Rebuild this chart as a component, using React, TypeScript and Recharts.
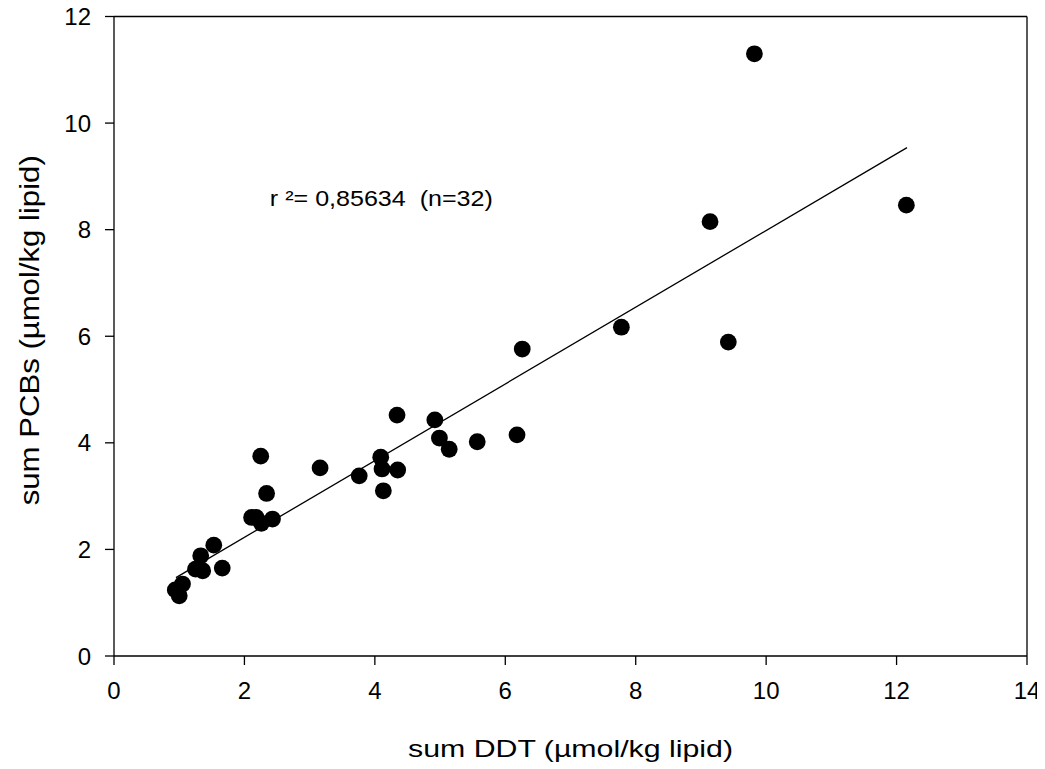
import React from "react";
import { ScatterChart, Scatter, XAxis, YAxis, ReferenceLine, ReferenceDot } from "recharts";

const sumDDT = [0.94, 1.05, 1.0, 1.25, 1.36, 1.33, 1.53, 1.66, 2.11, 2.18, 2.26, 2.43, 2.34, 2.25, 3.16, 3.76, 4.34, 4.09, 4.11, 4.35, 4.13, 4.92, 4.99, 5.14, 5.57, 6.18, 6.26, 7.78, 9.14, 9.42, 9.82, 12.15];
const sumPCB = [1.24, 1.35, 1.13, 1.63, 1.6, 1.88, 2.08, 1.65, 2.6, 2.6, 2.49, 2.57, 3.05, 3.75, 3.53, 3.38, 4.52, 3.73, 3.51, 3.49, 3.1, 4.43, 4.09, 3.88, 4.02, 4.15, 5.76, 6.17, 8.15, 5.89, 11.3, 8.46];
const fitX = [0.95, 12.16];
const fitY = [1.47, 9.54];
const xTicks = [0, 2, 4, 6, 8, 10, 12, 14];
const yTicks = [0, 2, 4, 6, 8, 10, 12];
const annotation = "r \u00B2= 0,85634\u00A0\u00A0(n=32)";
const xLabel = "sum DDT (\u00B5mol/kg lipid)";
const yLabel = "sum PCBs (\u00B5mol/kg lipid)";

const data = sumDDT.map((x, i) => ({ x, y: sumPCB[i] }));
const FONT = "'Liberation Sans', Arial, sans-serif";

const Dot = (props: any) => <circle cx={props.cx} cy={props.cy} r={8.4} fill="#000" />;

const XTick = (props: any) => (
  <text x={props.x} y={props.y} dy="0.71em" textAnchor="middle" fontFamily={FONT} fontSize={24} fill="#000">
    {props.payload.value}
  </text>
);

const YTick = (props: any) => (
  <text x={props.x} y={props.y} dy="0.355em" textAnchor="end" fontFamily={FONT} fontSize={24} fill="#000">
    {props.payload.value}
  </text>
);

const XLabel = (props: any) => {
  const vb = props.viewBox;
  return (
    <text x={vb.x + vb.width / 2} y={vb.y + 101} textAnchor="middle" fontFamily={FONT} fontSize={24} fill="#000" textLength={325} lengthAdjust="spacingAndGlyphs">
      {xLabel}
    </text>
  );
};

const YLabel = (props: any) => {
  const vb = props.viewBox;
  const cx = vb.x + 22;
  const cy = vb.y + vb.height / 2 - 6;
  return (
    <text x={cx} y={cy} transform={`rotate(-90, ${cx}, ${cy})`} textAnchor="middle" dominantBaseline="central" fontFamily={FONT} fontSize={27} fill="#000" textLength={350} lengthAdjust="spacingAndGlyphs">
      {yLabel}
    </text>
  );
};

const Annot = (props: any) => {
  const vb = props.viewBox;
  return (
    <text x={vb.x} y={vb.y} fontFamily={FONT} fontSize={22} fill="#000" textLength={223} lengthAdjust="spacingAndGlyphs" style={{ whiteSpace: "pre" }}>
      {annotation}
    </text>
  );
};

export default function App() {
  return (
    <div style={{ margin: "-8px 0 0 -8px", width: 1045, height: 769 }}>
      <ScatterChart width={1045} height={769} margin={{ top: 16.5, right: 18, bottom: 0, left: 8 }}>
        <XAxis
          type="number"
          dataKey="x"
          domain={[0, 14]}
          ticks={xTicks}
          height={113}
          tick={<XTick />}
          tickSize={9}
          tickMargin={17}
          stroke="#000"
          axisLine={{ stroke: "#000", strokeWidth: 1.3 }}
          tickLine={{ stroke: "#000", strokeWidth: 1.3 }}
          label={<XLabel />}
          allowDataOverflow
        />
        <YAxis
          type="number"
          dataKey="y"
          domain={[0, 12]}
          ticks={yTicks}
          width={106}
          tick={<YTick />}
          tickSize={9}
          tickMargin={14}
          stroke="#000"
          axisLine={{ stroke: "#000", strokeWidth: 1.3 }}
          tickLine={{ stroke: "#000", strokeWidth: 1.3 }}
          label={<YLabel />}
          allowDataOverflow
        />
        <ReferenceLine y={12} stroke="#000" strokeWidth={1.3} />
        <ReferenceLine x={14} stroke="#000" strokeWidth={1.3} />
        <ReferenceLine
          segment={[
            { x: fitX[0], y: fitY[0] },
            { x: fitX[1], y: fitY[1] },
          ]}
          stroke="#000"
          strokeWidth={1.3}
        />
        <ReferenceDot x={2.39} y={8.45} r={0} stroke="none" fill="none" label={<Annot />} />
        <Scatter data={data} shape={<Dot />} isAnimationActive={false} />
      </ScatterChart>
    </div>
  );
}
